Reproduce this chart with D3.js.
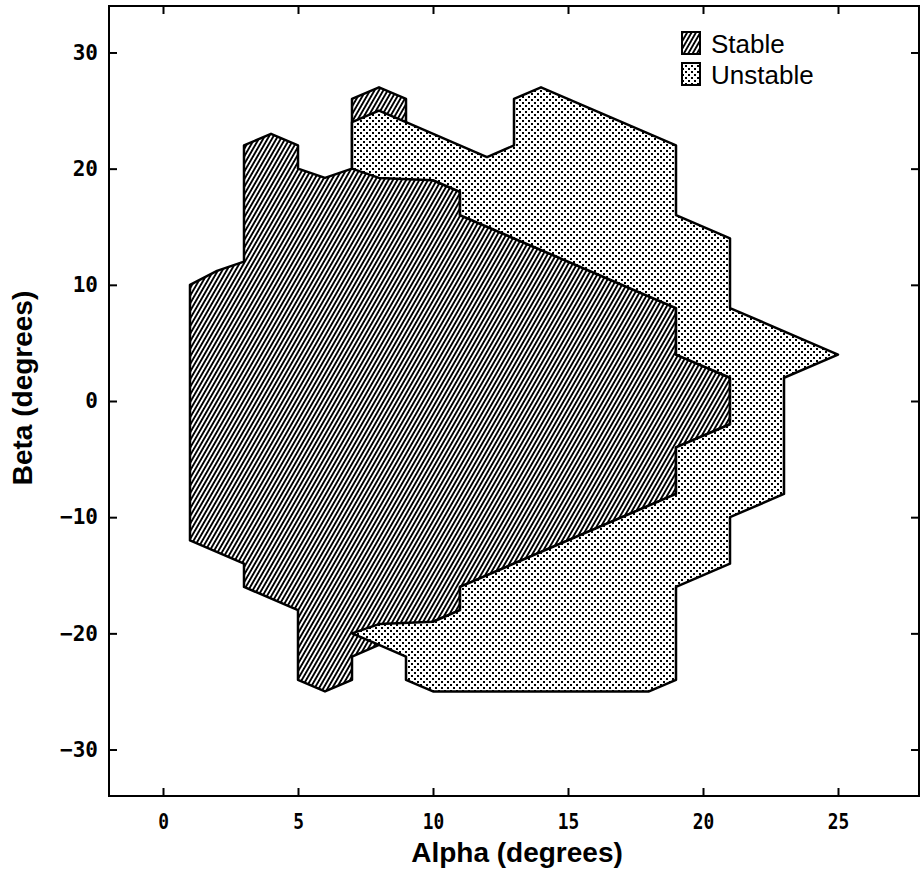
<!DOCTYPE html>
<html>
<head>
<meta charset="utf-8">
<script src="https://cdn.jsdelivr.net/npm/d3@7"></script>
<style>
  body { margin: 0; background: #fff; }
  .tick-label { font-family: "DejaVu Sans Mono", monospace; font-weight: bold; font-size: 21px; }
  .axis-title { font-family: "Liberation Sans", Arial, sans-serif; font-weight: bold; font-size: 28px; }
  .legend-label { font-family: "Liberation Sans", Arial, sans-serif; font-size: 26px; }
</style>
</head>
<body>
<div id="chart"></div>
<script>
// region outlines, [alpha, beta] in degrees
let stablePoints = [
    [1, 10], [2, 11.2], [3, 12], [3, 22], [4, 23], [5, 22], [5, 20], [6, 19.2],
    [7, 20], [7, 26], [8, 27], [9, 26], [9, 24], [10, 19], [11, 18], [11, 16],
    [19, 8], [19, 4], [21, 2], [21, -2], [19, -4], [19, -8], [11, -16], [11, -18],
    [10, -19], [8, -21], [7, -22], [7, -24], [6, -25], [5, -24], [5, -18],
    [3, -16], [3, -14], [1, -12]
];

let unstablePoints = [
    [7, 20], [7, 24], [8, 25], [9, 24], [12, 21], [13, 22], [13, 26], [14, 27],
    [19, 22], [19, 16], [21, 14], [21, 8], [25, 4], [23, 2], [23, -8], [21, -10],
    [21, -14], [19, -16], [19, -24], [18, -25], [10, -25], [9, -24], [9, -22],
    [8, -21], [7, -20], [8, -19.2], [10, -19], [11, -18], [11, -16], [19, -8],
    [19, -4], [21, -2], [21, 2], [19, 4], [19, 8], [11, 16], [11, 18], [10, 19],
    [8, 19.2]
];

let xTicks = [0, 5, 10, 15, 20, 25];
let yTicks = [-30, -20, -10, 0, 10, 20, 30];
let legendLabels = ["Stable", "Unstable"];

let width = 922, height = 876;
let margin = {top: 6, right: 3, bottom: 80, left: 109};

let svg = d3.select("#chart").append("svg")
    .attr("width", width)
    .attr("height", height);

// fill patterns
let defs = svg.append("defs");

let hatch = defs.append("pattern")
    .attr("id", "hatch")
    .attr("patternUnits", "userSpaceOnUse")
    .attr("width", 3.8)
    .attr("height", 10)
    .attr("patternTransform", "rotate(30)");
hatch.append("rect").attr("width", 3.8).attr("height", 10).attr("fill", "#fff");
hatch.append("rect").attr("width", 1.9).attr("height", 10).attr("fill", "#000");

let dots = defs.append("pattern")
    .attr("id", "dots")
    .attr("patternUnits", "userSpaceOnUse")
    .attr("width", 6)
    .attr("height", 6);
dots.append("rect").attr("width", 6).attr("height", 6).attr("fill", "#fff");
dots.append("rect").attr("x", 0).attr("y", 0).attr("width", 2).attr("height", 2).attr("fill", "#000");
dots.append("rect").attr("x", 3).attr("y", 3).attr("width", 2).attr("height", 2).attr("fill", "#000");

let x = d3.scaleLinear().domain([-2, 28]).range([margin.left, width - margin.right]);
let y = d3.scaleLinear().domain([-34, 34]).range([height - margin.bottom, margin.top]);

let line = d3.line()
    .x(d => x(d[0]))
    .y(d => y(d[1]))
    .curve(d3.curveLinearClosed);

// stable first, unstable drawn over it
svg.append("path")
    .attr("d", line(stablePoints))
    .attr("fill", "url(#hatch)")
    .attr("stroke", "#000")
    .attr("stroke-width", 2.5)
    .attr("stroke-linejoin", "round");

svg.append("path")
    .attr("d", line(unstablePoints))
    .attr("fill", "url(#dots)")
    .attr("stroke", "#000")
    .attr("stroke-width", 2.5)
    .attr("stroke-linejoin", "round");

// frame
svg.append("rect")
    .attr("x", x(-2))
    .attr("y", y(34))
    .attr("width", x(28) - x(-2))
    .attr("height", y(-34) - y(34))
    .attr("fill", "none")
    .attr("stroke", "#000")
    .attr("stroke-width", 2);

// axes, ticks point inward
let xAxis = svg.append("g")
    .attr("transform", `translate(0, ${y(-34)})`)
    .call(d3.axisBottom(x).tickValues(xTicks).tickSize(-8).tickPadding(18).tickFormat(d3.format("d")));

let yAxis = svg.append("g")
    .attr("transform", `translate(${x(-2)}, 0)`)
    .call(d3.axisLeft(y).tickValues(yTicks).tickSize(-8).tickPadding(11).tickFormat(d3.format("d")));

svg.append("g")
    .attr("transform", `translate(0, ${y(34)})`)
    .call(d3.axisTop(x).tickValues(xTicks).tickSize(-8).tickFormat(""));

svg.append("g")
    .attr("transform", `translate(${x(28)}, 0)`)
    .call(d3.axisRight(y).tickValues(yTicks).tickSize(-8).tickFormat(""));

svg.selectAll(".domain").remove();
svg.selectAll(".tick line").attr("stroke-width", 2);
svg.selectAll(".tick text")
    .attr("class", "tick-label")
    .attr("fill", "#000");

// bottom labels are a bit narrower in the original
xAxis.selectAll(".tick text").attr("transform", "scale(0.85, 1)");

// axis titles
svg.append("text")
    .attr("class", "axis-title")
    .attr("x", 517)
    .attr("y", 862)
    .attr("text-anchor", "middle")
    .text("Alpha (degrees)");

svg.append("text")
    .attr("class", "axis-title")
    .attr("transform", `translate(32, 388) rotate(-90)`)
    .attr("text-anchor", "middle")
    .text("Beta (degrees)");

// legend
let legend = svg.append("g")
    .attr("transform", "translate(682, 32)");

let fills = ["url(#hatch)", "url(#dots)"];

legend.selectAll("rect")
    .data(legendLabels)
    .enter()
    .append("rect")
    .attr("x", 0)
    .attr("y", (d, i) => i * 31)
    .attr("width", 18)
    .attr("height", 22)
    .attr("fill", (d, i) => fills[i])
    .attr("stroke", "#000")
    .attr("stroke-width", 2);

legend.selectAll("text")
    .data(legendLabels)
    .enter()
    .append("text")
    .attr("class", "legend-label")
    .attr("x", 29)
    .attr("y", (d, i) => i * 31 + 21)
    .text(d => d);
</script>
</body>
</html>
